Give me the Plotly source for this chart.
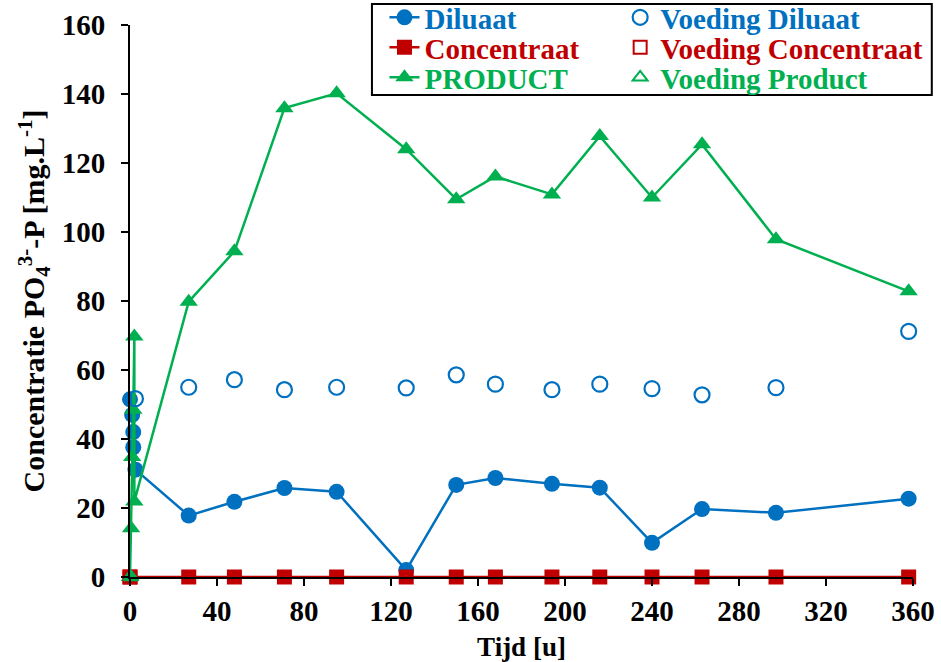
import plotly.graph_objects as go

# ---- data ----
t_dil = [0, 1, 1.5, 1.5, 2.5, 27, 48, 71, 95, 127, 150, 168, 194, 216, 240, 263, 297, 358]
y_dil = [51.5, 47, 42, 37.6, 31.1, 17.8, 21.8, 25.8, 24.7, 2.0, 26.7, 28.7, 27.0, 25.9, 9.9, 19.7, 18.6, 22.7]

t_conc = [0, 27, 48, 71, 95, 127, 150, 168, 194, 216, 240, 263, 297, 358]
y_conc = [0, 0, 0, 0, 0, 0, 0, 0, 0, 0, 0, 0, 0, 0]

t_prod = [0, 0.5, 1, 1.5, 2, 2, 27, 48, 71, 95, 127, 150, 168, 194, 216, 240, 263, 297, 358]
y_prod = [0, 14.1, 34.8, 48.5, 69.7, 21.9, 79.8, 94.4, 135.9, 140.2, 124.0, 109.5, 116.1, 110.9, 127.8, 110.0, 125.4, 97.9, 82.8]

t_vdil = [2.5, 27, 48, 71, 95, 127, 150, 168, 194, 216, 240, 263, 297, 358]
y_vdil = [51.7, 55.0, 57.2, 54.3, 55.0, 54.8, 58.6, 55.9, 54.3, 55.9, 54.6, 52.8, 54.9, 71.2]

t_vconc = [0]
y_vconc = [0]
t_vprod = [0.5]
y_vprod = [0]

x_ticks = [0, 40, 80, 120, 160, 200, 240, 280, 320, 360]
y_ticks = [0, 20, 40, 60, 80, 100, 120, 140, 160]

BLUE = "#0070C0"
RED = "#C00000"
GREEN = "#00B050"

font_family = "'Liberation Serif', 'Times New Roman', Times, serif"

def lbl(text, color):
    return f"<span style='color:{color}'><b>{text}</b></span>"

fig = go.Figure()
fig.add_trace(go.Scatter(x=t_dil, y=y_dil, mode="lines+markers", name=lbl("Diluaat", BLUE),
                         line=dict(color=BLUE, width=2.5), marker=dict(symbol="circle", size=16, color=BLUE),
                         cliponaxis=False, legend="legend"))
fig.add_trace(go.Scatter(x=t_conc, y=y_conc, mode="lines+markers", name=lbl("Concentraat", RED),
                         line=dict(color=RED, width=2.5), marker=dict(symbol="square", size=15, color=RED),
                         cliponaxis=False, legend="legend2"))
fig.add_trace(go.Scatter(x=t_prod, y=y_prod, mode="lines+markers", name=lbl("PRODUCT", GREEN),
                         line=dict(color=GREEN, width=2.5), marker=dict(symbol="triangle-up", size=16, color=GREEN),
                         cliponaxis=False, legend="legend3"))
fig.add_trace(go.Scatter(x=t_vdil, y=y_vdil, mode="markers", name=lbl("Voeding Diluaat", BLUE),
                         marker=dict(symbol="circle-open", size=15, color=BLUE, line=dict(width=2.2)),
                         cliponaxis=False, legend="legend4"))
fig.add_trace(go.Scatter(x=t_vconc, y=y_vconc, mode="markers", name=lbl("Voeding Concentraat", RED),
                         marker=dict(symbol="square-open", size=13, color=RED, line=dict(width=2)),
                         cliponaxis=False, legend="legend5"))
fig.add_trace(go.Scatter(x=t_vprod, y=y_vprod, mode="markers", name=lbl("Voeding Product", GREEN),
                         marker=dict(symbol="triangle-up-open", size=13, color=GREEN, line=dict(width=2)),
                         cliponaxis=False, legend="legend6"))

row_y = [1.0137, 0.9593, 0.905]
col_x = [0.325, 0.626]

def leg(x, y):
    return dict(x=x, y=y, xanchor="left", yanchor="middle", bgcolor="rgba(0,0,0,0)",
                font=dict(family=font_family, size=29), itemwidth=30, borderwidth=0)

fig.update_layout(
    width=941, height=662,
    margin=dict(l=130, r=28, t=25, b=85, autoexpand=False),
    plot_bgcolor="white", paper_bgcolor="white",
    font=dict(family=font_family, size=22, color="black"),
    showlegend=True,
    legend=leg(col_x[0], row_y[0]),
    legend2=leg(col_x[0], row_y[1]),
    legend3=leg(col_x[0], row_y[2]),
    legend4=leg(col_x[1], row_y[0]),
    legend5=leg(col_x[1], row_y[1]),
    legend6=leg(col_x[1], row_y[2]),
    xaxis=dict(range=[0, 360], tickvals=x_ticks, ticktext=[f"<b>{v}</b>" for v in x_ticks],
               showgrid=False, zeroline=False, showline=True, linecolor="black", linewidth=2,
               ticks="outside", ticklen=7, tickwidth=2, tickcolor="black",
               tickfont=dict(family=font_family, size=29, color="black"),
               title=dict(text="<b>Tijd [u]</b>", font=dict(family=font_family, size=27), standoff=13)),
    yaxis=dict(range=[0, 160], tickvals=y_ticks, ticktext=[f"<b>{v}</b>" for v in y_ticks],
               showgrid=False, zeroline=False, showline=True, linecolor="black", linewidth=2,
               ticks="outside", ticklen=7, tickwidth=2, tickcolor="black", ticklabelstandoff=10,
               tickfont=dict(family=font_family, size=29, color="black"),
               title=dict(text="<b>Concentratie PO<sub>4</sub><sup>3-</sup>-P [mg.L<sup>-1</sup>]</b>",
                          font=dict(family=font_family, size=30), standoff=8)),
)

# legend frame
fig.add_shape(type="rect", xref="paper", yref="paper",
              x0=0.309, x1=1.024, y0=0.873, y1=1.038,
              line=dict(color="black", width=2), fillcolor="rgba(0,0,0,0)", layer="above")

fig.write_html("out.html")
